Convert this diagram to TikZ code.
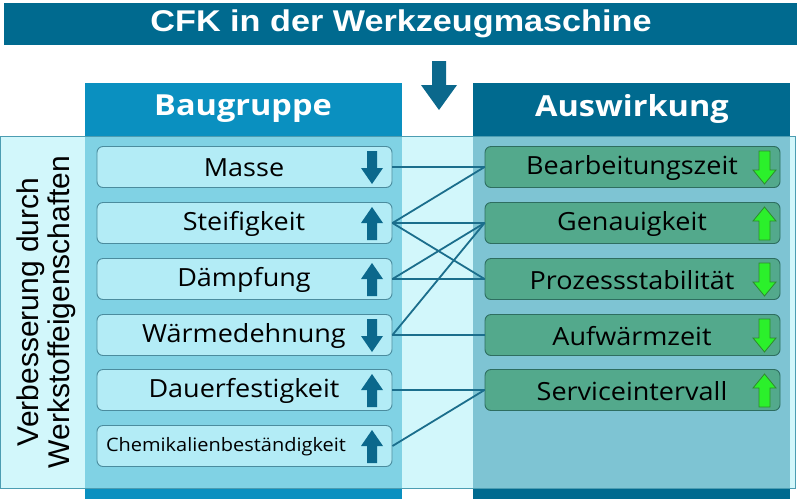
\documentclass[tikz,border=0pt]{standalone}
\usepackage{fontspec}
\setmainfont{Open Sans}
\newfontfamily\arialfont{Liberation Sans}
\newfontfamily\boxfont{Open Sans}
\definecolor{titleblue}{HTML}{006A8F}
\definecolor{headL}{HTML}{0A90C0}
\definecolor{headR}{HTML}{006A8F}
\definecolor{bandlight}{HTML}{D2F7FB}
\definecolor{bandL}{HTML}{80D2E4}
\definecolor{bandR}{HTML}{7EC4D3}
\definecolor{bandborder}{HTML}{4C9DB2}
\definecolor{lboxfill}{HTML}{B3ECF6}
\definecolor{lboxdraw}{HTML}{4B8C9E}
\definecolor{rboxfill}{HTML}{53A98C}
\definecolor{rboxdraw}{HTML}{2E6E60}
\definecolor{linkcol}{HTML}{1B6E8C}
\definecolor{arrblue}{HTML}{0B688C}
\definecolor{arrgreen}{HTML}{2BF02B}
\definecolor{arrgreendraw}{HTML}{2E8A2E}
\tikzset{
  lbox/.style={draw=lboxdraw, fill=lboxfill, line width=0.9pt, rounded corners=6pt,
    minimum width=295pt, minimum height=41pt, inner sep=0pt},
  rbox/.style={draw=rboxdraw, fill=rboxfill, line width=0.9pt, rounded corners=6pt,
    minimum width=295pt, minimum height=41pt, inner sep=0pt},
  boxtext/.style={font=\boxfont\fontsize{25}{28}\selectfont, text=black, inner sep=0pt, anchor=center},
  headtext/.style={text=white, font=\boxfont\bfseries\fontsize{29}{32}\selectfont, inner sep=0pt},
  link/.style={draw=linkcol, line width=1.8pt},
  barrow/.style={fill=arrblue, draw=none},
  garrow/.style={fill=arrgreen, draw=arrgreendraw, line width=0.8pt},
}
\newcommand{\wide}[1]{\scalebox{1.08}[1]{#1}}
\newcommand{\downarr}[3]{% x, y center, style
  \path[#3] (#1-5,#2-16) -- (#1+5,#2-16) -- (#1+5,#2+1) -- (#1+11,#2+1) -- (#1,#2+17) -- (#1-11,#2+1) -- (#1-5,#2+1) -- cycle;}
\newcommand{\uparr}[3]{%
  \path[#3] (#1-5,#2+17) -- (#1+5,#2+17) -- (#1+5,#2) -- (#1+11,#2) -- (#1,#2-16) -- (#1-11,#2) -- (#1-5,#2) -- cycle;}
\newcommand{\gdownarr}[2]{%
  \path[garrow] (#1-5.5,#2-16) -- (#1+5.5,#2-16) -- (#1+5.5,#2+3) -- (#1+11.5,#2+3) -- (#1,#2+17) -- (#1-11.5,#2+3) -- (#1-5.5,#2+3) -- cycle;}
\newcommand{\guparr}[2]{%
  \path[garrow] (#1-5.5,#2+17) -- (#1+5.5,#2+17) -- (#1+5.5,#2-2) -- (#1+11.5,#2-2) -- (#1,#2-16) -- (#1-11.5,#2-2) -- (#1-5.5,#2-2) -- cycle;}
\begin{document}
\begin{tikzpicture}[x=1pt,y=-1pt]
\useasboundingbox (0,0) rectangle (800,499);
\fill[white] (0,0) rectangle (800,499);
% title
\fill[titleblue] (4,3) rectangle (797,45);
\node[text=white, font=\arialfont\bfseries\fontsize{30}{32}\selectfont, inner sep=0pt] (title) at (401,24) {\scalebox{1.14}[1]{CFK in der Werkzeugmaschine}};
% central arrow
\path[barrow] (432,61) -- (446,61) -- (446,85) -- (457,85) -- (439,110) -- (421,85) -- (432,85) -- cycle;
% columns
\fill[headL] (85,83) rectangle (402,499);
\fill[headR] (473,83) rectangle (790,499);
\node[headtext] (hL) at (243,109) {\scalebox{1.12}[1]{Baugruppe}};
\node[headtext] (hR) at (632,109) {\scalebox{1.12}[1]{Auswirkung}};
% band
\fill[bandlight] (0,136) rectangle (795,488);
\fill[bandL] (85,136) rectangle (402,488);
\fill[bandR] (473,136) rectangle (790,488);
\draw[bandborder, line width=0.8pt] (0.5,136) rectangle (795,488);
% vertical label
\node[rotate=90, font=\arialfont\fontsize{30}{31}\selectfont, align=center, inner sep=0pt] (vlabel) at (46,312) {Verbesserung durch\\Werkstoffeigenschaften};
% left boxes
\node[lbox] (masse) at (244.5,167) {};
\node[lbox] (steif) at (244.5,223) {};
\node[lbox] (daempf) at (244.5,279) {};
\node[lbox] (waerme) at (244.5,335) {};
\node[lbox] (dauer) at (244.5,390) {};
\node[lbox] (chemie) at (244.5,446) {};
\node[boxtext] at (244,168) {\wide{Masse}};
\node[boxtext] at (244,224) {\wide{Steifigkeit}};
\node[boxtext] at (244,280) {\wide{Dämpfung}};
\node[boxtext] at (244,336) {\wide{Wärmedehnung}};
\node[boxtext] at (244,391) {\wide{Dauerfestigkeit}};
\node[boxtext, font=\boxfont\fontsize{18.5}{21}\selectfont] at (226,447) {\wide{Chemikalienbeständigkeit}};
% right boxes
\node[rbox] (bearb) at (632.5,167) {};
\node[rbox] (genau) at (632.5,223) {};
\node[rbox] (prozess) at (632.5,279) {};
\node[rbox] (aufw) at (632.5,335) {};
\node[rbox] (service) at (632.5,390) {};
\node[boxtext] at (632,168) {\wide{Bearbeitungszeit}};
\node[boxtext] at (632,224) {\wide{Genauigkeit}};
\node[boxtext] at (632,280) {\wide{Prozessstabilität}};
\node[boxtext] at (632,336) {\wide{Aufwärmzeit}};
\node[boxtext] at (632,391) {\wide{Serviceintervall}};
% blue arrows
\downarr{372}{167}{barrow}
\uparr{372}{223}{barrow}
\uparr{372}{279}{barrow}
\downarr{372}{335}{barrow}
\uparr{372}{390}{barrow}
\uparr{372}{446}{barrow}
% green arrows
\gdownarr{764.5}{167}
\guparr{764.5}{223}
\gdownarr{764.5}{279}
\gdownarr{764.5}{335}
\guparr{764.5}{390}
% links
\draw[link] (masse.east) -- (bearb.west);
\draw[link] (steif.east) -- (bearb.west);
\draw[link] (steif.east) -- (genau.west);
\draw[link] (steif.east) -- (prozess.west);
\draw[link] (daempf.east) -- (genau.west);
\draw[link] (daempf.east) -- (prozess.west);
\draw[link] (waerme.east) -- (genau.west);
\draw[link] (waerme.east) -- (aufw.west);
\draw[link] (dauer.east) -- (service.west);
\draw[link] (chemie.east) -- (service.west);
\end{tikzpicture}
\end{document}
